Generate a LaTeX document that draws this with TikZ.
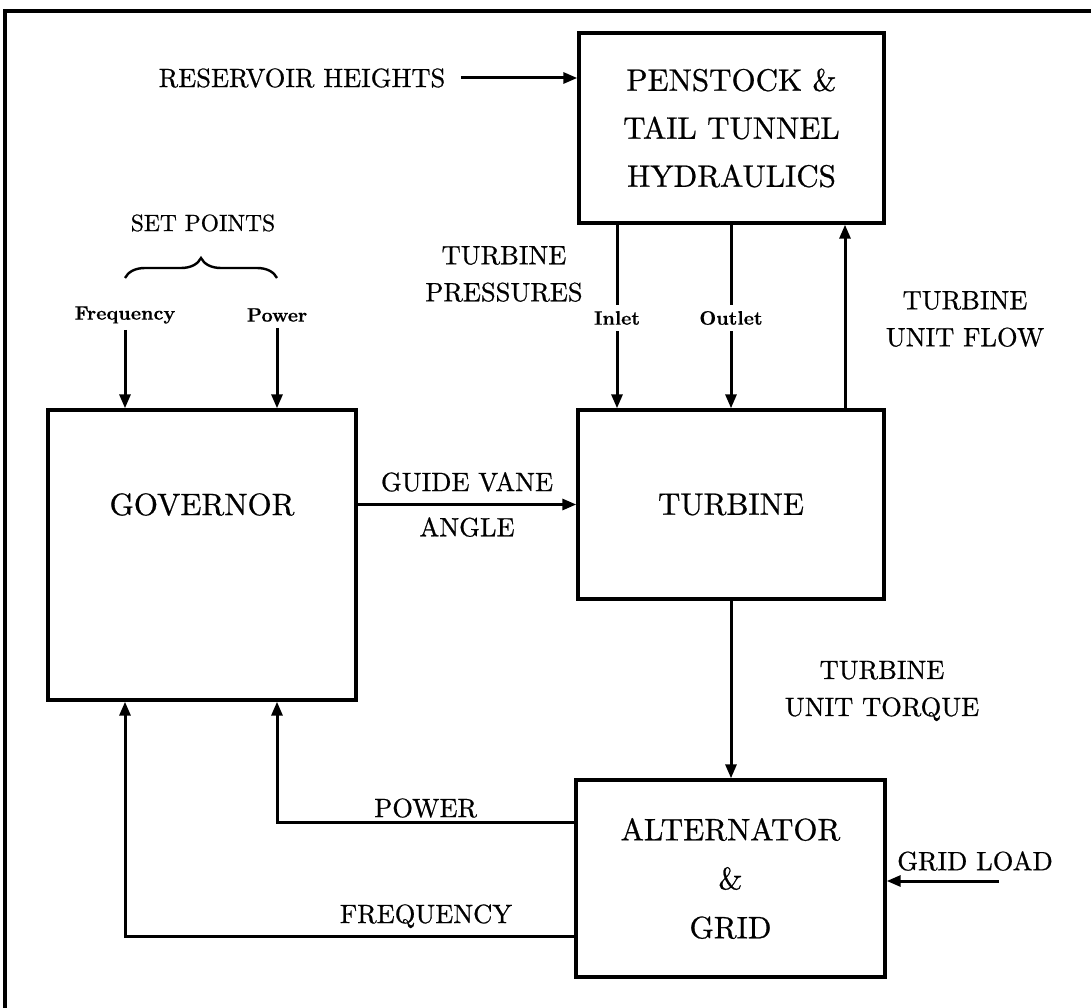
\documentclass[tikz,border=0pt]{standalone}
\usepackage{fontspec}
\setmainfont{lmroman10-regular.otf}[FakeBold=0.7,BoldFont=lmroman10-bold.otf,BoldFeatures={FakeBold=0.3}]
\usepackage{tikz}
\usetikzlibrary{arrows.meta,calc,positioning,decorations.pathreplacing}
\newcommand{\boxfont}{\fontsize{31}{48}\selectfont}
\newcommand{\lblfont}{\fontsize{26.5}{37}\selectfont}
\newcommand{\tagfont}{\fontsize{19.5}{23}\selectfont\bfseries}

\begin{document}
\begin{tikzpicture}[x=1pt,y=-1pt,>={Triangle[length=14pt,width=11pt]},
  blk/.style={draw,line width=3.4pt,font=\boxfont,align=center,inner sep=0pt},
  lbl/.style={font=\lblfont,align=center},
  tag/.style={font=\tagfont,inner sep=6pt},
  arr/.style={->,line width=3pt},
  wire/.style={line width=3pt}]
\useasboundingbox (0,0) rectangle (1091,1008);
\draw[line width=3.4pt] (5,1008)--(5,11)--(1091,11);
\node[blk,minimum width=305pt,minimum height=190pt] (pen) at (731.5,128) {PENSTOCK \&\\TAIL TUNNEL\\HYDRAULICS};
\node[blk,minimum width=306pt,minimum height=189pt] (turb) at (731,504.5) {TURBINE};
\node[blk,minimum width=308pt,minimum height=290pt] (gov) at (202,555) {};
\node[font=\boxfont] (govtxt) at (gov.center |- turb.center) {GOVERNOR};
\node[blk,minimum width=309pt,minimum height=197pt,font=\fontsize{31}{49}\selectfont] (alt) at (730.5,878.5) {ALTERNATOR\\\&\\GRID};
\node[lbl] (resv) at (302,78) {RESERVOIR HEIGHTS};
\node[lbl,font=\fontsize{23.5}{28}\selectfont] (setp) at (203,223) {SET POINTS};
\node[tag] (spf) at (125,315) {Frequency};
\node[tag] (spp) at (277,315) {Power};
\node[lbl] (press) at (504,274) {TURBINE\\PRESSURES};
\node[tag] (inl) at (617,318) {Inlet};
\node[tag] (outl) at (731,318) {Outlet};
\node[lbl] (flow) at (965,319) {TURBINE\\UNIT FLOW};
\node[lbl] (torq) at (882,691) {TURBINE\\UNIT TORQUE};
\node[lbl] (gload) at (975,861) {GRID LOAD};
\coordinate (gl) at (999,881);
\draw[arr] ([xshift=12pt]resv.east) -- (resv.east -| pen.west);
\draw[line width=2.4pt,decorate,decoration={brace,amplitude=20pt}] (125,278) -- (277,278);
\draw[arr] (spf.south) -- (spf.south |- gov.north);
\draw[arr] (spp.south) -- (spp.south |- gov.north);
\draw[wire] (inl.north |- pen.south) -- (inl.north);
\draw[arr] (inl.south) -- (inl.south |- turb.north);
\draw[wire] (outl.north |- pen.south) -- (outl.north);
\draw[arr] (outl.south) -- (outl.south |- turb.north);
\draw[arr] (845,0 |- turb.north) -- (845,0 |- pen.south);
\draw[arr] (gov.east |- turb.center) -- (turb.west)
  node[lbl,midway,above=8pt] {GUIDE VANE} node[lbl,midway,below=8pt] {ANGLE};
\draw[arr] (turb.south) -- (turb.south |- alt.north);
\draw[arr] ([yshift=56pt]alt.west) -| (spp.south |- gov.south) node[lbl,pos=0.25,above] {POWER};
\draw[arr] ([yshift=-57.5pt]alt.west) -| (spf.south |- gov.south) node[lbl,pos=0.165,above=3pt] {FREQUENCY};
\draw[arr] (gl) -- (gl -| alt.east);
\end{tikzpicture}
\end{document}
